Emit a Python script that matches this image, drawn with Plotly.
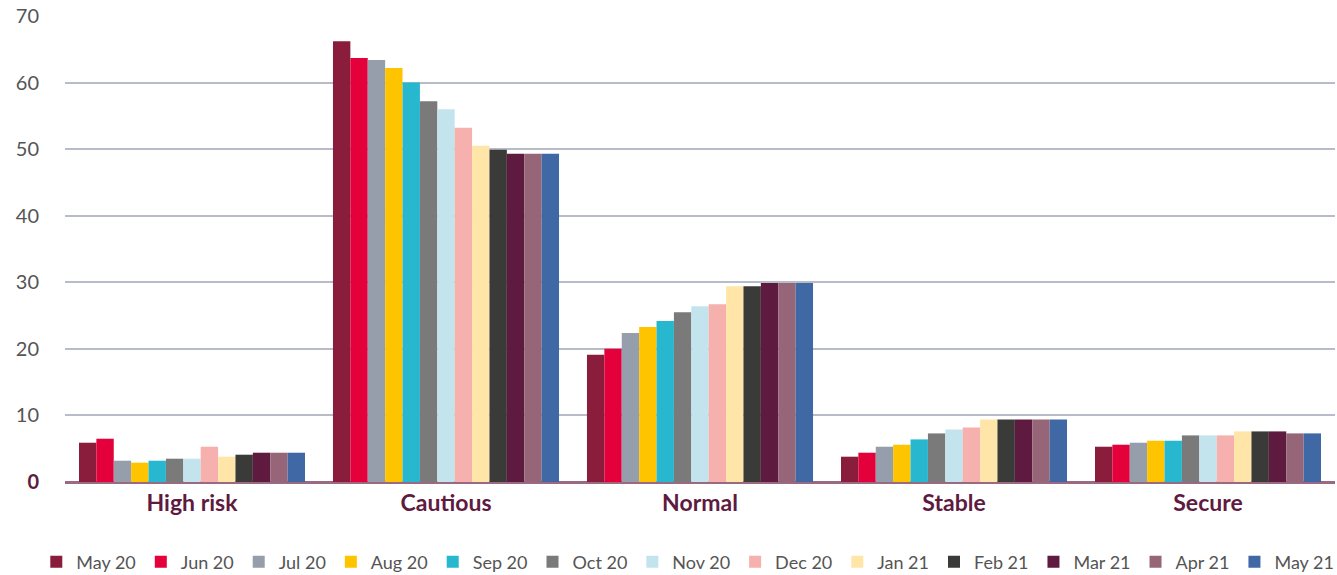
import plotly.graph_objects as go

categories = ["High risk", "Cautious", "Normal", "Stable", "Secure"]
months = ["May 20", "Jun 20", "Jul 20", "Aug 20", "Sep 20", "Oct 20", "Nov 20",
          "Dec 20", "Jan 21", "Feb 21", "Mar 21", "Apr 21", "May 21"]
colors = ["#8B1D3C", "#E4003B", "#969EAB", "#FFC400", "#27B8CF", "#7A7A7A", "#C3E4EC",
          "#F6B0AD", "#FFE5A8", "#3A3A38", "#5E1A3F", "#966678", "#3F68A5"]

# values per month: [High risk, Cautious, Normal, Stable, Secure]
may20 = [5.9, 66.2, 19.1, 3.8, 5.3]
jun20 = [6.5, 63.7, 20.0, 4.4, 5.6]
jul20 = [3.2, 63.4, 22.4, 5.3, 5.9]
aug20 = [2.9, 62.2, 23.3, 5.6, 6.2]
sep20 = [3.2, 60.0, 24.2, 6.4, 6.2]
oct20 = [3.5, 57.2, 25.5, 7.3, 7.0]
nov20 = [3.5, 56.0, 26.4, 7.9, 7.0]
dec20 = [5.3, 53.2, 26.7, 8.2, 7.0]
jan21 = [3.8, 50.5, 29.4, 9.4, 7.6]
feb21 = [4.1, 49.9, 29.4, 9.4, 7.6]
mar21 = [4.4, 49.3, 29.9, 9.4, 7.6]
apr21 = [4.4, 49.3, 29.9, 9.4, 7.3]
may21 = [4.4, 49.3, 29.9, 9.4, 7.3]
series = [may20, jun20, jul20, aug20, sep20, oct20, nov20, dec20, jan21, feb21, mar21, apr21, may21]

y_ticks = [0, 10, 20, 30, 40, 50, 60, 70]
y_ticktext = ["<b><span style='color:#5E1A3F'>0</span></b>"] + [str(v) for v in y_ticks[1:]]

fig = go.Figure()
for name, vals, col in zip(months, series, colors):
    fig.add_trace(go.Bar(name=name, x=categories, y=vals, marker=dict(color=col, line=dict(width=0))))

FONT = "Lato"
fig.update_layout(
    barmode="group",
    bargap=0.11,
    bargroupgap=0,
    width=1337, height=575,
    margin=dict(l=65, r=2, t=16, b=93, autoexpand=False),
    paper_bgcolor="white", plot_bgcolor="white",
    font=dict(family=FONT, color="#555555"),
    showlegend=True,
    legend=dict(orientation="h", x=-0.0226, xanchor="left", y=-0.172, yanchor="middle",
                font=dict(size=18, color="#555555", family=FONT),
                itemwidth=30, tracegroupgap=0, traceorder="normal"),
    xaxis=dict(tickfont=dict(size=23, color="#5E1A3F", family=FONT),
               ticklabelstandoff=5, showgrid=False, showline=False, ticks="",
               automargin=False),
    yaxis=dict(range=[0, 70], tickvals=y_ticks, ticktext=y_ticktext,
               tickfont=dict(size=20, color="#555555", family=FONT),
               gridcolor="#B8BCC8", gridwidth=1.5, zeroline=True, zerolinecolor="#9A6A82",
               zerolinewidth=2.5, ticklabelstandoff=25, showline=False, ticks="",
               automargin=False),
)
fig.update_xaxes(tickprefix="<b>", ticksuffix="</b>")

fig.write_html("out.html", config={"displayModeBar": False},
               post_script="document.body.style.margin='0';document.body.style.overflow='hidden';")
